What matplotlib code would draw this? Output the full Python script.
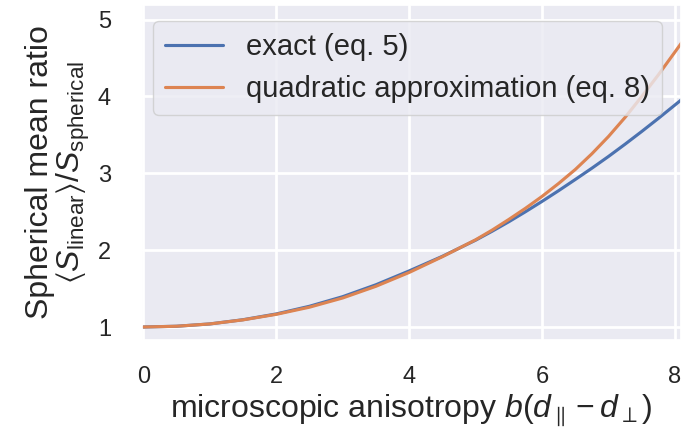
import numpy as np
import matplotlib
matplotlib.use("Agg")
import matplotlib.pyplot as plt
import seaborn as sns

sns.set_theme(style="darkgrid")
plt.rcParams['font.family'] = ['Liberation Sans', 'DejaVu Sans']
plt.rcParams['mathtext.fontset'] = 'custom'
plt.rcParams['mathtext.rm'] = 'Liberation Sans'
plt.rcParams['mathtext.it'] = 'Liberation Sans:italic'
plt.rcParams['mathtext.fallback'] = 'stixsans'

# values
anisotropy = [0.0, 0.5, 1.0, 1.5, 2.0, 2.5, 3.0, 3.5, 4.0, 4.5, 5.0, 5.25, 5.5, 5.75,
              6.0, 6.25, 6.5, 6.75, 7.0, 7.25, 7.5, 7.75, 8.0, 8.1]
ratio_exact = [1.00, 1.01, 1.04, 1.095, 1.17, 1.27, 1.395, 1.55, 1.73, 1.92, 2.13, 2.247, 2.37, 2.50,
               2.635, 2.775, 2.92, 3.067, 3.22, 3.38, 3.545, 3.715, 3.89, 3.96]
ratio_quad = [1.00, 1.01, 1.04, 1.093, 1.165, 1.258, 1.378, 1.53, 1.71, 1.915, 2.135, 2.262, 2.40, 2.545,
              2.70, 2.869, 3.05, 3.255, 3.48, 3.729, 4.00, 4.282, 4.58, 4.70]

labels = ["exact (eq. 5)", "quadratic approximation (eq. 8)"]
xticks = [0, 2, 4, 6, 8]
yticks = [1, 2, 3, 4, 5]

fig = plt.figure(figsize=(6.81, 4.36), dpi=100)
ax = fig.add_axes([0.208, 0.22, 0.792, 0.7685])

lw = 2.25
ax.plot(anisotropy, ratio_exact, color='#4C72B0', linewidth=lw, label=labels[0])
ax.plot(anisotropy, ratio_quad, color='#DD8452', linewidth=lw, label=labels[1])

ax.set_xlim(-0.025, 8.09)
ax.set_ylim(0.83, 5.19)
ax.set_xticks(xticks)
ax.set_yticks(yticks)
ax.grid(True, color='white', linewidth=2)
ax.tick_params(axis='both', labelsize=17, length=0, labelcolor='#262626')
ax.tick_params(axis='x', pad=19)
ax.tick_params(axis='y', pad=22)

ax.set_xlabel(r"microscopic anisotropy $b(d_{\parallel} - d_{\perp})$", fontsize=23, color='#262626', labelpad=3)
ax.set_ylabel("Spherical mean ratio\n" + r"$\langle S_{\mathrm{linear}}\rangle / S_{\mathrm{spherical}}$",
              fontsize=23, color='#262626', labelpad=4, linespacing=1.0)

ax.legend(loc='upper left', fontsize=21, bbox_to_anchor=(0.021, 0.952), borderaxespad=0)

fig.savefig("out.png", dpi=100)
